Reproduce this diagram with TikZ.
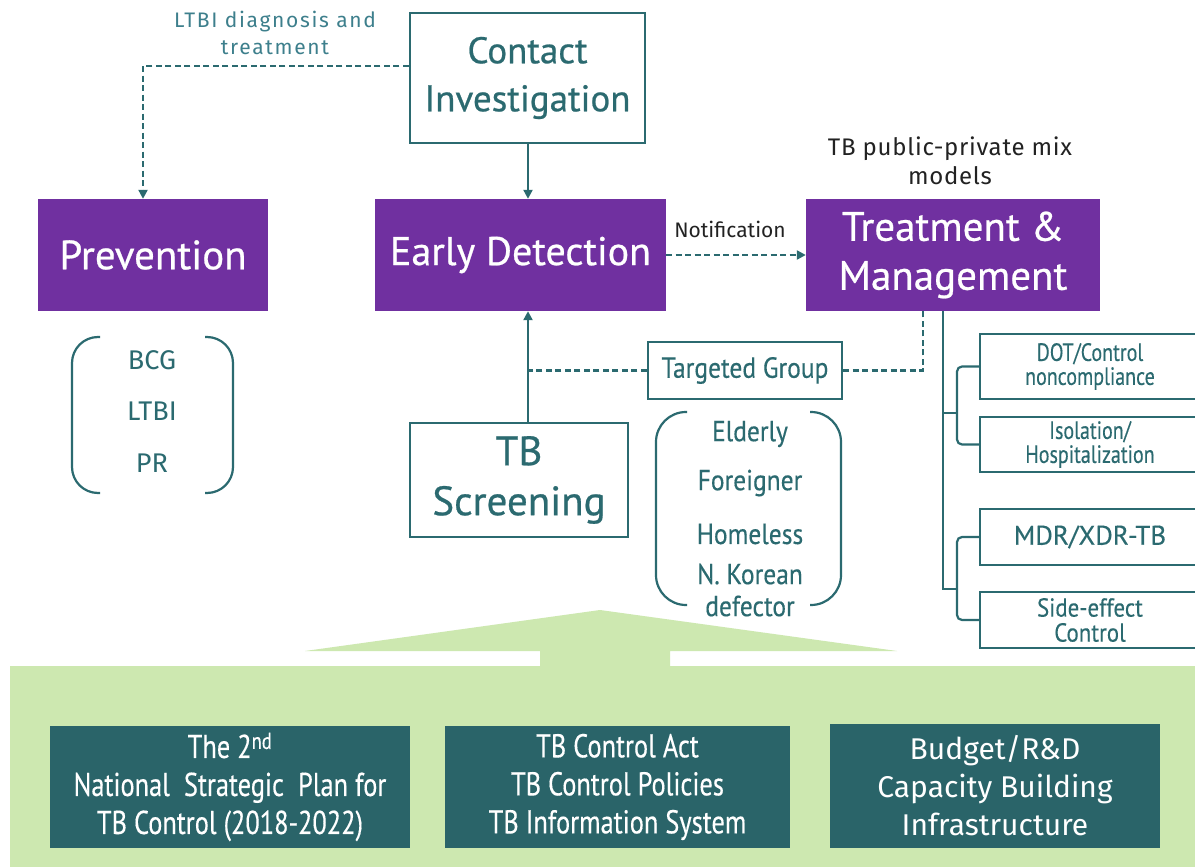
\documentclass[tikz,border=0pt]{standalone}
\usepackage{fontspec}
\setmainfont{PT Sans}
\newfontfamily\titlefont[FakeBold=0.6]{PT Sans}
\newfontfamily\widefont{Fira Sans}
\newfontfamily\spacedfont[LetterSpace=8]{Fira Sans}
\newfontfamily\ppmfont[LetterSpace=3]{Fira Sans}
\newfontfamily\narrowfont[FakeStretch=0.80,FakeBold=0.3]{PT Sans}
\newfontfamily\slimfont[FakeStretch=0.88,FakeBold=0.3]{PT Sans}
\newfontfamily\plainfont[FakeBold=0.3]{PT Sans}
\usetikzlibrary{arrows.meta}
\definecolor{tealline}{HTML}{2B6A70}
\definecolor{purp}{HTML}{7030A0}
\definecolor{lgreen}{HTML}{CDE8B0}
\definecolor{dteal}{HTML}{2A6469}
\definecolor{ltxt}{HTML}{3D7F8C}
\definecolor{dtext}{HTML}{222222}
\tikzset{
  outbox/.style={draw=tealline, line width=2.2pt, fill=white, text=tealline,
    align=center, inner sep=0pt},
  purpbox/.style={fill=purp, text=white, align=center, inner sep=0pt},
  sidebox/.style={outbox, minimum width=220pt},
  darkbox/.style={fill=dteal, text=white, align=center, inner sep=0pt,
    font=\narrowfont\fontsize{33}{38}\selectfont},
  conn/.style={draw=tealline, line width=2.2pt},
  dconn/.style={conn, dash pattern=on 6pt off 3.5pt},
  arr/.style={-{Triangle[length=9pt,width=9pt]}},
  paren/.style={draw=tealline, line width=2.2pt, rounded corners=26pt},
  listtext/.style={text=tealline, font=\slimfont\fontsize{29}{29}\selectfont},
  prevtext/.style={text=tealline, font=\widefont\fontsize{27}{27}\selectfont},
}
\begin{document}
\begin{tikzpicture}[x=1pt,y=-1pt]
\clip (0,0) rectangle (1195,867);
\fill[white] (0,0) rectangle (1195,867);

% green foundation with upward arrow
\fill[lgreen] (600,610) -- (897,651) -- (670,651) -- (670,666) -- (1195,666)
  -- (1195,867) -- (10,867) -- (10,666) -- (540,666) -- (540,651) -- (305,651) -- cycle;

% main boxes
\node[outbox, minimum width=235pt, minimum height=130pt,
  font=\titlefont\fontsize{37}{48}\selectfont] (contact) at (527.5,78) {Contact\\Investigation};
\node[purpbox, minimum width=230pt, minimum height=112pt,
  font=\titlefont\fontsize{41}{48}\selectfont] (prev) at (153,255) {Prevention};
\node[purpbox, minimum width=291pt, minimum height=112pt,
  font=\titlefont\fontsize{40}{48}\selectfont] (early) at (520.5,255) {Early Detection};
\node[purpbox, minimum width=294pt, minimum height=112pt,
  font=\titlefont\fontsize{41}{49}\selectfont] (treat) at (953,255) {Treatment \&\\Management};
\node[outbox, minimum width=218pt, minimum height=114pt,
  font=\titlefont\fontsize{41}{50}\selectfont] (screen) at (519,480) {TB\\Screening};
\node[outbox, minimum width=194pt, minimum height=57pt,
  font=\slimfont\fontsize{29}{29}\selectfont] (target) at (745,370.5) {Targeted Group};

% treatment sub-boxes
\node[sidebox, minimum height=65pt, font=\narrowfont\fontsize{25}{24}\selectfont] (dot) at (1090,366.5) {DOT/Control\\noncompliance};
\node[sidebox, minimum height=55pt, font=\narrowfont\fontsize{25}{24}\selectfont] (iso) at (1090,444.5) {Isolation/\\Hospitalization};
\node[sidebox, minimum height=56pt, font=\plainfont\fontsize{27}{27}\selectfont] (mdr) at (1090,537) {MDR/XDR-TB};
\node[sidebox, minimum height=56pt, font=\slimfont\fontsize{26}{25}\selectfont] (side) at (1090,620) {Side-effect\\Control};

% labels
\node[text=ltxt, align=center, font=\spacedfont\fontsize{21}{27}\selectfont] (ltbilab) at (275,33) {LTBI diagnosis and\\treatment};
\node[text=dtext, align=center, font=\ppmfont\fontsize{24}{29}\selectfont] (ppmlab) at (950,161) {TB public-private mix\\models};
\node[text=dtext, font=\widefont\fontsize{21}{21}\selectfont] (notif) at (730,229) {Notification};

% prevention list
\node[prevtext] (bcg) at (152,360) {BCG};
\node[prevtext] (ltbi) at (152,411) {LTBI};
\node[prevtext] (pr) at (152,463) {PR};
\draw[paren] (100,337) -- (72,337) -- (72,493) -- (100,493);
\draw[paren] (205,337) -- (233,337) -- (233,493) -- (205,493);

% targeted groups list
\node[listtext] (eld) at (750,434) {Elderly};
\node[listtext] (for) at (750,483) {Foreigner};
\node[listtext] (hom) at (750,534) {Homeless};
\node[listtext, align=center, font=\slimfont\fontsize{29}{32}\selectfont] (nk) at (750,590) {N. Korean\\defector};
\draw[paren, rounded corners=30pt] (687,412) -- (656,412) -- (656,605) -- (687,605);
\draw[paren, rounded corners=30pt] (810,412) -- (841,412) -- (841,605) -- (810,605);

% connectors
\coordinate (axis) at (528,0);
\draw[dconn, arr] ([yshift=12pt]contact.west) -| ([xshift=-10pt]prev.north);
\draw[conn, arr] (contact.south -| axis) -- (early.north -| axis);
\draw[conn, arr] (screen.north -| axis) -- (early.south -| axis);
\draw[dconn, arr] (early.east) -- (treat.west);
\draw[dconn] (target.west) -- (target.west -| axis);
\draw[dconn] (target.east) -| ([xshift=-30pt]treat.south);

% treatment tree
\coordinate (tv) at (943,589);
\coordinate (ba) at (957,413);
\coordinate (bb) at (957,589);
\draw[conn] (treat.south -| tv) -- (tv) -- (bb);
\draw[conn] (tv |- ba) -- (ba);
\draw[conn, rounded corners=5pt] (dot.west) -| (ba) |- (iso.west);
\draw[conn, rounded corners=5pt] (mdr.west) -| (bb) |- (side.west);

% foundation boxes
\node[darkbox, minimum width=360pt, minimum height=122pt] (nsp) at (230,787)
  {The 2\textsuperscript{nd}\\National\ \ Strategic\ \ Plan for\\TB Control (2018-2022)};
\node[darkbox, minimum width=345pt, minimum height=122pt] (act) at (617.5,787)
  {TB Control Act\\TB Control Policies\\TB Information System};
\node[darkbox, minimum width=330pt, minimum height=124pt,
  font=\widefont\fontsize{30}{38}\selectfont] (bud) at (995,786)
  {Budget/R\&D\\Capacity Building\\Infrastructure};
\end{tikzpicture}
\end{document}
